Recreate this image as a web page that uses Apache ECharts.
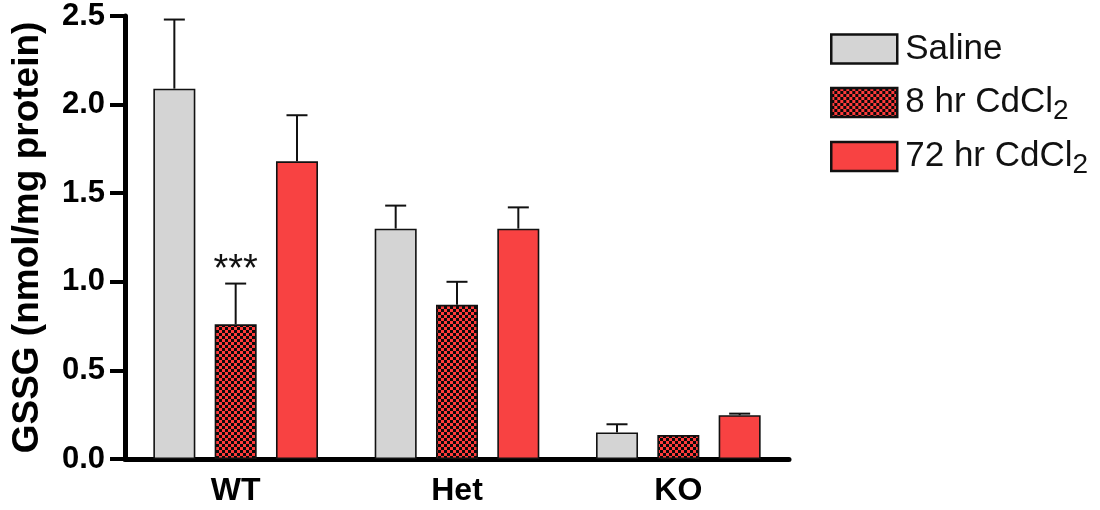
<!DOCTYPE html>
<html>
<head>
<meta charset="utf-8">
<title>GSSG</title>
<script src="https://cdn.jsdelivr.net/npm/echarts@6/dist/echarts.min.js"></script>
<style>
  html, body { margin: 0; padding: 0; background: #fff; }
  #chart { width: 1100px; height: 510px; }
</style>
</head>
<body>
<div id="chart"></div>
<script>
// Genotype groups on the x axis
const categories = ['WT', 'Het', 'KO'];
// Treatment groups
const seriesNames = ['Saline', '8 hr CdCl2', '72 hr CdCl2'];
// Mean GSSG (nmol/mg protein)
const salineMean = [2.09, 1.30, 0.150];
const cd8Mean = [0.76, 0.87, 0.135];
const cd72Mean = [1.68, 1.30, 0.247];
// Upper error (SEM)
const salineErr = [0.39, 0.13, 0.046];
const cd8Err = [0.23, 0.13, 0];
const cd72Err = [0.26, 0.12, 0.009];
// Significance marks: [series index, category index, text]
const annotations = [[1, 0, '***']];
// Y axis ticks
const yTicks = [0, 0.5, 1.0, 1.5, 2.0, 2.5];

const FONT = "'Liberation Sans', Arial, Helvetica, sans-serif";
const RED = '#F84242';
const GREY = '#D4D4D4';
const BAR_W = 42;
const BAR_GAP = 0.46;

// Red/black checkerboard fill for the 8 hr group
function checker() {
  const c = document.createElement('canvas');
  c.width = 6; c.height = 6;
  const g = c.getContext('2d');
  g.fillStyle = '#FF3B3B';
  g.fillRect(0, 0, 6, 6);
  g.fillStyle = '#0a0a0a';
  g.fillRect(0, 0, 3, 3);
  g.fillRect(3, 3, 3, 3);
  return { image: c, repeat: 'repeat' };
}

const means = [salineMean, cd8Mean, cd72Mean];
const errs = [salineErr, cd8Err, cd72Err];
const fills = [GREY, checker(), RED];

const barSeries = seriesNames.map((name, s) => ({
  name: name,
  type: 'bar',
  barWidth: BAR_W,
  barGap: (BAR_GAP * 100) + '%',
  data: means[s],
  itemStyle: { color: fills[s], borderColor: '#111', borderWidth: 1.6 },
  z: 2
}));

const errData = [];
means.forEach((m, s) => {
  m.forEach((v, c) => {
    errData.push([c, v, v + errs[s][c], s]);
  });
});

function findMark(s, c) {
  const a = annotations.find(d => d[0] === s && d[1] === c);
  return a ? a[2] : null;
}

const errorSeries = {
  name: 'error',
  type: 'custom',
  z: 3,
  silent: true,
  data: errData,
  encode: { x: 0, y: [1, 2] },
  renderItem: function (params, api) {
    const c = api.value(0), lo = api.value(1), hi = api.value(2), s = api.value(3);
    const base = api.coord([c, lo]);
    const top = api.coord([c, hi]);
    const x = base[0] + (s - 1) * BAR_W * (1 + BAR_GAP);
    const half = BAR_W / 4;
    const children = [];
    if (hi > lo) {
      const st = { stroke: '#111', lineWidth: 2 };
      children.push({ type: 'line', shape: { x1: x, y1: base[1], x2: x, y2: top[1] }, style: st });
      children.push({ type: 'line', shape: { x1: x - half, y1: top[1], x2: x + half, y2: top[1] }, style: st });
    }
    const mark = findMark(s, c);
    if (mark) {
      children.push({
        type: 'text',
        style: {
          text: mark, x: x, y: top[1] - 32,
          align: 'center', verticalAlign: 'top',
          font: '38px ' + FONT, fill: '#111'
        }
      });
    }
    return { type: 'group', children: children };
  }
};

const chart = echarts.init(document.getElementById('chart'), null, { renderer: 'canvas' });
chart.setOption({
  animation: false,
  backgroundColor: '#fff',
  grid: { left: 125, right: 311, top: 16, bottom: 51, containLabel: false, outerBoundsMode: 'none' },
  legend: {
    data: seriesNames,
    orient: 'vertical',
    left: 830,
    top: 27,
    padding: 0,
    itemWidth: 66,
    itemHeight: 29,
    itemGap: 9,
    icon: 'rect',
    selectedMode: false,
    itemStyle: { borderColor: '#111', borderWidth: 2.5 },
    formatter: function (name) {
      return name.replace(/CdCl2$/, 'CdCl{sub|2}');
    },
    textStyle: {
      fontFamily: FONT,
      fontSize: 35,
      lineHeight: 44,
      color: '#111',
      padding: [0, 0, 0, 3],
      rich: {
        sub: { fontFamily: FONT, fontSize: 28, lineHeight: 28, color: '#111', padding: [17, 0, 0, 0] }
      }
    }
  },
  xAxis: {
    type: 'category',
    data: categories,
    axisLine: { lineStyle: { color: '#000', width: 5 } },
    axisTick: { alignWithLabel: true, length: 14, lineStyle: { color: '#000', width: 5 } },
    axisLabel: { fontFamily: FONT, fontWeight: 'bold', fontSize: 32, color: '#000', margin: 16 },
    splitLine: { show: false }
  },
  yAxis: {
    type: 'value',
    min: 0,
    max: 2.5,
    interval: 0.5,
    name: 'GSSG (nmol/mg protein)',
    nameLocation: 'middle',
    nameGap: 79,
    nameTextStyle: { fontFamily: FONT, fontWeight: 'bold', fontSize: 37, color: '#000' },
    axisLine: { show: true, lineStyle: { color: '#000', width: 5 } },
    axisTick: { show: true, length: 15, lineStyle: { color: '#000', width: 4 } },
    axisLabel: {
      fontFamily: FONT, fontWeight: 'bold', fontSize: 31, color: '#000', margin: 20,
      formatter: function (v) {
        const t = yTicks.find(d => Math.abs(d - v) < 1e-9);
        return (t === undefined ? v : t).toFixed(1);
      }
    },
    splitLine: { show: false }
  },
  series: barSeries.concat([errorSeries])
});
</script>
</body>
</html>
